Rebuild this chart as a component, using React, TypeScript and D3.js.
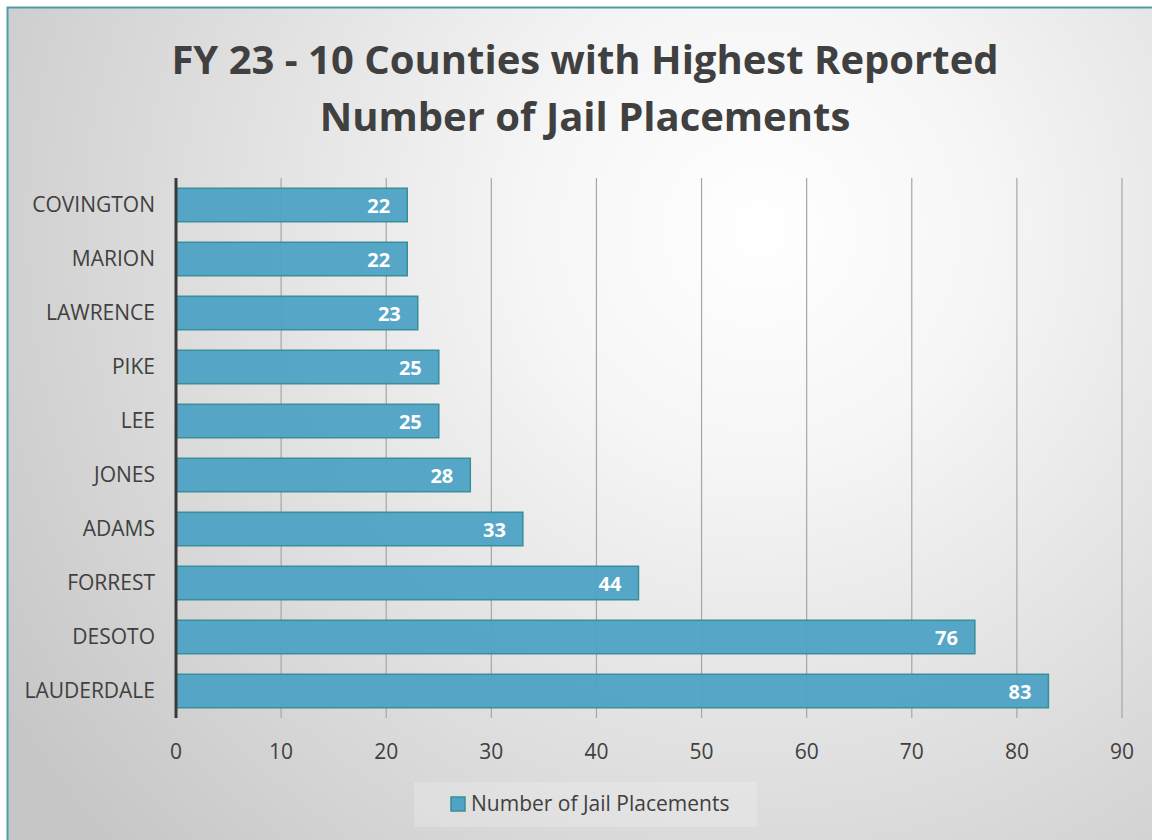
import React, { useEffect, useRef } from "react";
import * as d3 from "d3";

// counties top-to-bottom as drawn
const counties = ["COVINGTON", "MARION", "LAWRENCE", "PIKE", "LEE", "JONES", "ADAMS", "FORREST", "DESOTO", "LAUDERDALE"];
const placements = [22, 22, 23, 25, 25, 28, 33, 44, 76, 83];
const xTicks = [0, 10, 20, 30, 40, 50, 60, 70, 80, 90];
const titleLines = ["FY 23 - 10 Counties with Highest Reported", "Number of Jail Placements"];
const seriesName = "Number of Jail Placements";

const W = 1152;
const H = 840;
const font = "'Open Sans', sans-serif";

export default function App() {
  const ref = useRef<SVGSVGElement>(null);

  useEffect(() => {
    const svg = d3.select(ref.current);
    svg.selectAll("*").remove();

    const defs = svg.append("defs");
    const grad = defs
      .append("radialGradient")
      .attr("id", "bg")
      .attr("gradientUnits", "userSpaceOnUse")
      .attr("cx", 760)
      .attr("cy", 230)
      .attr("r", 900);
    grad.append("stop").attr("offset", "0%").attr("stop-color", "#ffffff");
    grad.append("stop").attr("offset", "25%").attr("stop-color", "#f6f6f6");
    grad.append("stop").attr("offset", "100%").attr("stop-color", "#c6c6c6");

    svg.append("rect").attr("width", W).attr("height", H).attr("fill", "#fff");
    svg
      .append("rect")
      .attr("x", 7.5)
      .attr("y", 7.5)
      .attr("width", W + 20)
      .attr("height", H + 20)
      .attr("fill", "url(#bg)")
      .attr("stroke", "#4a9ea6")
      .attr("stroke-width", 2);

    // title
    svg
      .append("text")
      .attr("x", 585)
      .attr("y", 74)
      .attr("text-anchor", "middle")
      .style("font-family", font)
      .style("font-size", "40px")
      .style("font-weight", "bold")
      .style("fill", "#404040")
      .selectAll("tspan")
      .data(titleLines)
      .join("tspan")
      .attr("x", 585)
      .attr("dy", (d, i) => (i === 0 ? 0 : 57))
      .text((d) => d);

    const left = 176;
    const right = 1122;
    const top = 178;
    const bottom = 718;

    const x = d3.scaleLinear().domain([0, 90]).range([left, right]);
    const y = d3.scaleBand().domain(counties).range([top, bottom]).paddingInner(0.38).paddingOuter(0.19);

    // gridlines
    svg
      .append("g")
      .selectAll("line")
      .data(xTicks.slice(1))
      .join("line")
      .attr("x1", (d) => x(d))
      .attr("x2", (d) => x(d))
      .attr("y1", top)
      .attr("y2", bottom)
      .attr("stroke", "#a6a6a6")
      .attr("stroke-width", 1.2);

    // bars
    svg
      .append("g")
      .selectAll("rect")
      .data(placements)
      .join("rect")
      .attr("x", x(0))
      .attr("y", (d, i) => y(counties[i]))
      .attr("width", (d) => x(d) - x(0))
      .attr("height", y.bandwidth())
      .attr("fill", "#4fa3c5")
      .attr("fill-opacity", 0.97)
      .attr("stroke", "#3a8f98")
      .attr("stroke-width", 1.5);

    // value labels
    svg
      .append("g")
      .selectAll("text")
      .data(placements)
      .join("text")
      .attr("x", (d) => x(d) - 17)
      .attr("y", (d, i) => y(counties[i]) + y.bandwidth() / 2 + 8)
      .attr("text-anchor", "end")
      .style("font-family", font)
      .style("font-size", "20px")
      .style("font-weight", "bold")
      .style("fill", "#ffffff")
      .text((d) => d);

    // y axis line
    svg
      .append("line")
      .attr("x1", left)
      .attr("x2", left)
      .attr("y1", top)
      .attr("y2", bottom)
      .attr("stroke", "#3a3a3a")
      .attr("stroke-width", 3);

    // category labels
    svg
      .append("g")
      .selectAll("text")
      .data(counties)
      .join("text")
      .attr("x", 155)
      .attr("y", (d) => y(d) + y.bandwidth() / 2 + 7)
      .attr("text-anchor", "end")
      .style("font-family", font)
      .style("font-size", "21px")
      .style("fill", "#404040")
      .text((d) => d);

    // x tick labels
    svg
      .append("g")
      .selectAll("text")
      .data(xTicks)
      .join("text")
      .attr("x", (d) => x(d))
      .attr("y", 759)
      .attr("text-anchor", "middle")
      .style("font-family", font)
      .style("font-size", "21px")
      .style("fill", "#404040")
      .text((d) => d);

    // legend
    const lg = svg.append("g");
    lg.append("rect")
      .attr("x", 414)
      .attr("y", 782)
      .attr("width", 343)
      .attr("height", 45)
      .attr("fill", "#ffffff")
      .attr("fill-opacity", 0.2);
    lg.append("rect")
      .attr("x", 451)
      .attr("y", 797)
      .attr("width", 14)
      .attr("height", 14)
      .attr("fill", "#4fa3c5")
      .attr("stroke", "#3a8f98")
      .attr("stroke-width", 1.5);
    lg.append("text")
      .attr("x", 471)
      .attr("y", 811)
      .style("font-family", font)
      .style("font-size", "21px")
      .style("fill", "#404040")
      .text(seriesName);
  }, []);

  return (
    <div style={{ position: "absolute", left: 0, top: 0 }}>
      <svg ref={ref} width={W} height={H} style={{ display: "block" }} />
    </div>
  );
}
